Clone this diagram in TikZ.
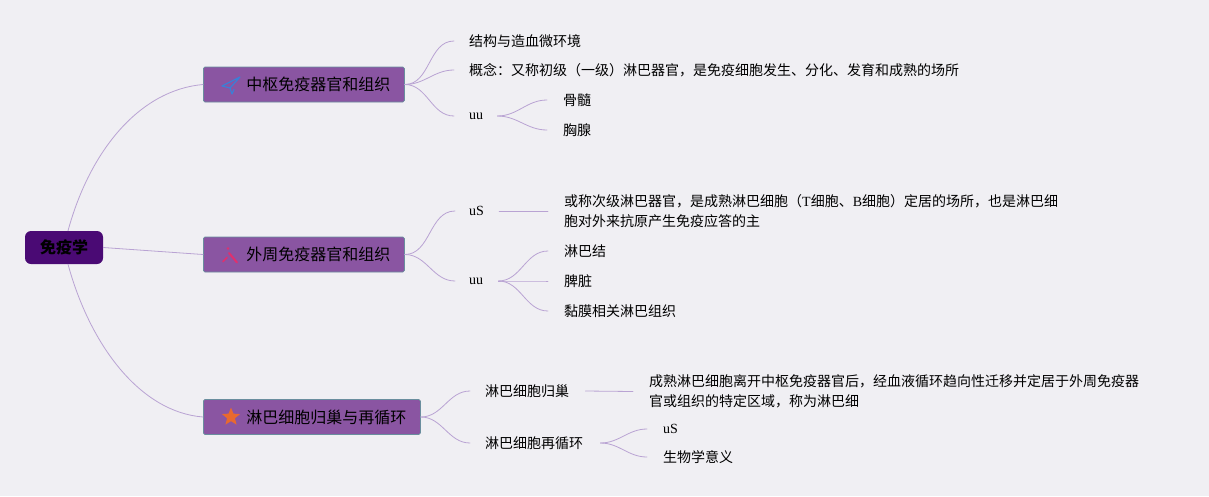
\documentclass[tikz,border=0pt]{standalone}
\usepackage{fontspec}
\setmainfont{Noto Sans CJK SC}
\newfontfamily\lat{Liberation Serif}
\usetikzlibrary{shapes.geometric}
\definecolor{bgc}{HTML}{F0EFF3}
\definecolor{rootc}{HTML}{4A0A74}
\definecolor{boxc}{HTML}{8A55A2}
\definecolor{rimc}{HTML}{6A8E9E}
\definecolor{linkc}{HTML}{B9A3D3}
\definecolor{planec}{HTML}{3B7FD6}
\definecolor{wandc}{HTML}{E0306E}
\definecolor{starc}{HTML}{E8692F}
\begin{document}
\begin{tikzpicture}[x=1pt,y=-1pt, line join=round, line cap=round,
	rootbox/.style={fill=rootc,rounded corners=6pt,minimum width=78pt,minimum height=33pt,inner sep=0pt,font=\fontsize{16}{18}\selectfont\bfseries},
	branch/.style={draw=rimc,fill=boxc,line width=0.8pt,rounded corners=1.5pt,minimum height=35pt,anchor=west,inner xsep=14pt,inner ysep=0pt,font=\fontsize{16}{18}\selectfont},
	leaf/.style={anchor=west,inner sep=0pt,font=\fontsize{14}{20}\selectfont,align=left},
	link/.style={draw=linkc,line width=0.8pt}]
	\fill[bgc] (0,0) rectangle (1209,496);
	\useasboundingbox (0,0) rectangle (1209,496);
	% root and main branches
	\node[rootbox] (root) at (64,247.5) {免疫学};
	\node[branch] (b1) at (203,84.5) {\hspace*{29pt}中枢免疫器官和组织};
	\node[branch] (b2) at (203,254.5) {\hspace*{29pt}外周免疫器官和组织};
	\node[branch] (b3) at (203,417) {\hspace*{29pt}淋巴细胞归巢与再循环};
	\draw[link] ([xshift=4pt]root.north) .. controls (90,150) and (140,90) .. (b1.west);
	\draw[link] (root.east) -- (b2.west);
	\draw[link] ([xshift=4pt]root.south) .. controls (90,345) and (140,412) .. (b3.west);
	% icons
	\begin{scope}[shift={(b1.west)}]
		\draw[planec,line width=1.2pt] (37,-7.5) -- (19,1.5) -- (27,3.5) -- cycle (37,-7.5) -- (27,3.5) -- (29,9.5) -- (31,5);
	\end{scope}
	\begin{scope}[shift={(b2.west)}]
		\draw[wandc,line width=2pt] (26,-1.5) -- (34,8);
		\draw[wandc,line width=1.6pt] (20,7) -- (24,3);
		\fill[wandc] (25,-6) circle (1.3);
	\end{scope}
	\begin{scope}[shift={(b3.west)}]
		\node[star,star points=5,star point ratio=2.3,fill=starc,minimum size=19pt,inner sep=0pt] at (28,0) {};
	\end{scope}
	% central organs
	\node[leaf] (a1) at (469,41) {结构与造血微环境};
	\node[leaf] (a2) at (469,70) {概念：又称初级（一级）淋巴器官，是免疫细胞发生、分化、发育和成熟的场所};
	\node[leaf] (a3) at (469,116) {\lat uu};
	\node[leaf] (a31) at (563,100) {骨髓};
	\node[leaf] (a32) at (563,130) {胸腺};
	\foreach \n in {a1,a2,a3} \draw[link] (b1.east) to[out=0,in=180] ([xshift=-15pt]\n.west);
	\foreach \n in {a31,a32} \draw[link] ([xshift=14pt]a3.east) to[out=0,in=180] ([xshift=-16pt]\n.west);
	% peripheral organs
	\node[leaf] (p1) at (469,211) {\lat uS};
	\node[leaf] (p1t) at (564,211) {或称次级淋巴器官，是成熟淋巴细胞（{\lat T}细胞、{\lat B}细胞）定居的场所，也是淋巴细\\胞对外来抗原产生免疫应答的主};
	\node[leaf] (p2) at (469,281) {\lat uu};
	\node[leaf] (p21) at (564,251) {淋巴结};
	\node[leaf] (p22) at (564,281) {脾脏};
	\node[leaf] (p23) at (564,311) {黏膜相关淋巴组织};
	\foreach \n in {p1,p2} \draw[link] (b2.east) to[out=0,in=180] ([xshift=-14pt]\n.west);
	\draw[link] ([xshift=15pt]p1.east) -- ([xshift=-16pt]p1t.west);
	\foreach \n in {p21,p22,p23} \draw[link] ([xshift=15pt]p2.east) to[out=0,in=180] ([xshift=-16pt]\n.west);
	% homing and recirculation
	\node[leaf] (r1) at (485,391) {淋巴细胞归巢};
	\node[leaf] (r1t) at (649,391.5) {成熟淋巴细胞离开中枢免疫器官后，经血液循环趋向性迁移并定居于外周免疫器\\官或组织的特定区域，称为淋巴细};
	\node[leaf] (r2) at (485,443) {淋巴细胞再循环};
	\node[leaf] (r21) at (663,429) {\lat uS};
	\node[leaf] (r22) at (663,457) {生物学意义};
	\foreach \n in {r1,r2} \draw[link] (b3.east) to[out=0,in=180] ([xshift=-15pt]\n.west);
	\draw[link] ([xshift=16pt]r1.east) -- ([xshift=-16pt]r1t.west);
	\foreach \n in {r21,r22} \draw[link] ([xshift=17pt]r2.east) to[out=0,in=180] ([xshift=-16pt]\n.west);
\end{tikzpicture}
\end{document}
